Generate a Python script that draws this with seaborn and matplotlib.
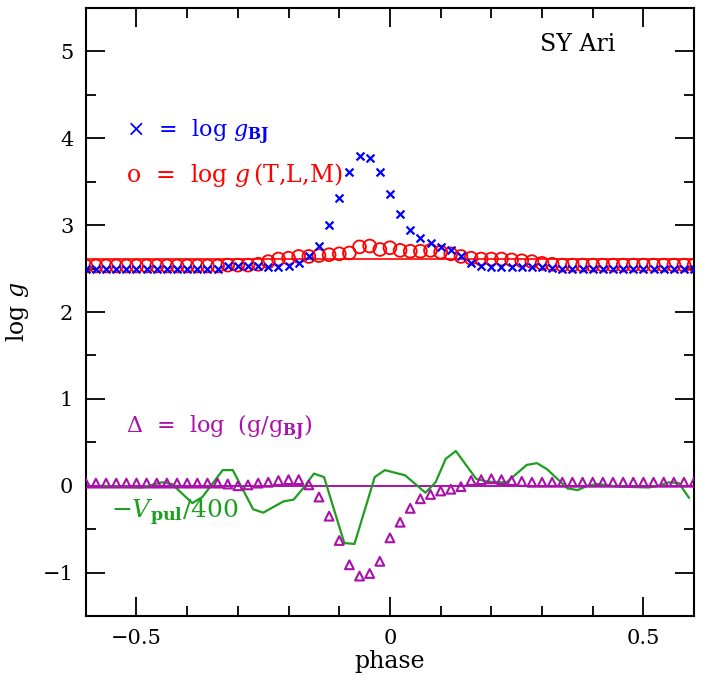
"""
SY Ari: log g from Baade-Wesselink vs log g(T,L,M), with the difference
and the scaled pulsation velocity underneath.
"""
import numpy as np
import pandas as pd
import matplotlib
matplotlib.use("Agg")
import matplotlib.pyplot as plt
import seaborn as sns
from matplotlib.ticker import MultipleLocator

# phase grid of the markers (step 0.02)
phase = np.round(np.arange(-0.60, 0.6001, 0.02), 2)

# log g_BJ (blue crosses)
logg_bj = ([2.50] * 14 +
           [2.53, 2.53, 2.53, 2.53, 2.52, 2.52, 2.53, 2.56, 2.64, 2.76,
            3.00, 3.31, 3.61, 3.80, 3.77, 3.61, 3.36, 3.13, 2.95, 2.85,
            2.80, 2.75, 2.71, 2.64, 2.57, 2.53, 2.52, 2.52, 2.52, 2.52,
            2.52, 2.52, 2.51] +
           [2.50] * 14)

# log g(T,L,M) (red circles)
logg_tlm = ([2.53] * 14 +
            [2.54, 2.54, 2.54, 2.55, 2.58, 2.61, 2.62, 2.64, 2.64, 2.65,
             2.66, 2.67, 2.68, 2.75, 2.76, 2.72, 2.74, 2.71, 2.70, 2.70,
             2.71, 2.69, 2.67, 2.64, 2.62, 2.61, 2.61, 2.61, 2.60, 2.59,
             2.58, 2.56, 2.55] +
            [2.54] * 14)

# delta = log(g/g_BJ) (magenta triangles)
delta = ([0.03] * 14 +
         [0.02, 0.00, 0.01, 0.03, 0.04, 0.06, 0.07, 0.07, 0.01, -0.13,
          -0.35, -0.63, -0.91, -1.04, -1.01, -0.87, -0.60, -0.42, -0.26, -0.15,
          -0.10, -0.06, -0.04, -0.01, 0.06, 0.07, 0.08, 0.07, 0.06, 0.05,
          0.04, 0.04, 0.04] +
         [0.04] * 14)

# -V_pul/400 (green line), vertices
vpul_phase = [-0.57, -0.53, -0.49, -0.45, -0.43, -0.39, -0.37, -0.33, -0.31,
              -0.27, -0.25, -0.21, -0.19, -0.17, -0.15, -0.13, -0.09, -0.07,
              -0.03, -0.01, 0.03, 0.07, 0.09, 0.11, 0.13, 0.17, 0.19, 0.21,
              0.23, 0.25, 0.27, 0.29, 0.31, 0.35, 0.37, 0.39, 0.41, 0.45,
              0.51, 0.53, 0.55, 0.57, 0.59]
vpul = [0.00, -0.01, -0.02, 0.04, 0.02, -0.20, -0.13, 0.18, 0.18,
        -0.27, -0.31, -0.18, -0.16, -0.02, 0.14, 0.10, -0.66, -0.67,
        0.10, 0.18, 0.12, -0.08, 0.04, 0.31, 0.40, 0.08, 0.05, 0.04,
        0.04, 0.14, 0.24, 0.26, 0.19, -0.03, -0.05, 0.00, 0.02, -0.01,
        -0.02, 0.00, 0.04, 0.03, -0.14]

mean_tlm = 2.61

BLUE = "#0000ff"
RED = "#ff0000"
MAG = "#aa10aa"
GREEN = "#1e9e1e"

sns.set_style("ticks")
plt.rcParams["font.family"] = ["DejaVu Serif"]
plt.rcParams["mathtext.fontset"] = "dejavuserif"
for k in ["text.color", "axes.labelcolor", "xtick.color", "ytick.color",
          "axes.edgecolor"]:
    plt.rcParams[k] = "black"

df = pd.DataFrame({"phase": phase, "bj": logg_bj, "tlm": logg_tlm, "delta": delta})
dv = pd.DataFrame({"phase": vpul_phase, "v": vpul})

fig = plt.figure(figsize=(7.09, 6.81), dpi=100)
ax = fig.add_axes([0.121, 0.0954, 0.858, 0.8928])

ax.axhline(mean_tlm, color=RED, lw=1.2, zorder=1)
ax.axhline(0, color=MAG, lw=1.4, zorder=1)

sns.lineplot(data=dv, x="phase", y="v", color=GREEN, lw=1.6, sort=False, ax=ax)
sns.scatterplot(data=df, x="phase", y="bj", marker="x", color=BLUE, s=32,
                linewidth=1.6, ax=ax, zorder=3)
ax.scatter(df["phase"], df["tlm"], marker="o", s=85, facecolors="none",
           edgecolors=RED, linewidths=1.3, zorder=2)
ax.scatter(df["phase"], df["delta"], marker="^", s=40, facecolors="none",
           edgecolors=MAG, linewidths=1.5, zorder=3)

ax.set_xlim(-0.6, 0.6)
ax.set_ylim(-1.5, 5.5)
ax.set_xticks([-0.5, 0, 0.5])
ax.set_xticklabels(["\u22120.5", "0", "0.5"])
ax.set_yticks([-1, 0, 1, 2, 3, 4, 5])
ax.set_yticklabels(["\u22121", "0", "1", "2", "3", "4", "5"])
ax.xaxis.set_minor_locator(MultipleLocator(0.1))
ax.yaxis.set_minor_locator(MultipleLocator(0.5))
ax.tick_params(which="both", direction="in", top=True, right=True,
               labelsize=15, width=1.3)
ax.tick_params(which="major", length=14, pad=9)
ax.tick_params(which="minor", length=7)
for s in ax.spines.values():
    s.set_linewidth(1.5)

ax.set_xlabel("phase", fontsize=17, labelpad=2)
ax.set_ylabel(r"log $g$", fontsize=17, labelpad=8)

ax.text(0.37, 5.08, "SY Ari", fontsize=17, ha="center", va="center")
ax.text(-0.52, 4.07, r"$\times$  =  log $g_{\mathbf{BJ}}$", color=BLUE,
        fontsize=16, va="center")
ax.text(-0.52, 3.58, r"o  =  log $g\,$(T,L,M)", color=RED,
        fontsize=17, va="center")
ax.text(-0.52, 0.66, r"$\Delta$  =  log  (g/g$_{\mathbf{BJ}}$)", color=MAG,
        fontsize=16, va="center")
ax.text(-0.55, -0.31, r"$-V_{\mathbf{pul}}$/400", color=GREEN,
        fontsize=18, va="center")

fig.savefig("out.png", dpi=100)
